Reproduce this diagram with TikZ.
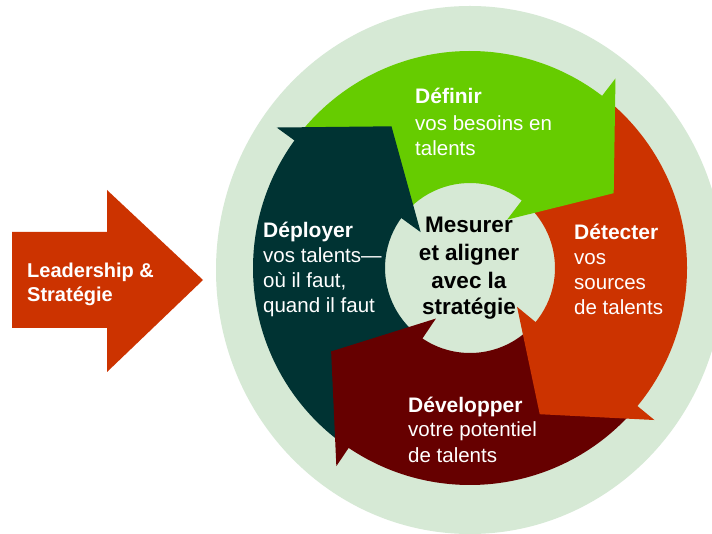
\documentclass[tikz,border=0pt]{standalone}
\usepackage{fontspec}
\setmainfont{Liberation Sans}
\definecolor{bgl}{RGB}{214,233,213}
\definecolor{grn}{RGB}{102,204,0}
\definecolor{org}{RGB}{204,51,0}
\definecolor{drd}{RGB}{102,0,0}
\definecolor{tea}{RGB}{0,51,51}
\tikzset{
  lbl/.style={anchor=base west, inner sep=0pt, text=white, font=\fontsize{20.5}{25}\selectfont},
  lblb/.style={anchor=base west, inner sep=0pt, text=white, font=\bfseries\fontsize{21}{25}\selectfont},
  ctr/.style={anchor=base, inner sep=0pt, text=black, font=\bfseries\fontsize{22.5}{27}\selectfont},
}
\begin{document}
\begin{tikzpicture}[x=1pt,y=1pt]
\useasboundingbox (0,0) rectangle (712,533);
\fill[white] (0,0) rectangle (712,533);
% background disc
\fill[bgl] (470,263) ellipse[x radius=254pt, y radius=264pt];
% left arrow
\fill[org] (12,205) -- (107,205) -- (107,161) -- (203,253) -- (107,343) -- (107,301) -- (12,301) -- cycle;
\node[lblb, font=\bfseries\fontsize{20}{24}\selectfont] (lead1) at (27,255) {Leadership \&};
\node[lblb, font=\bfseries\fontsize{20}{24}\selectfont] (lead2) at (27,231) {Stratégie};
% ring arrows: bodies first (each tucked under its own head and the previous head), then heads
\begin{scope}[shift={(470,265)}]
  \foreach \c/\h/\t in {grn/52.5/144, org/-39.5/52.5, drd/-124/-39.5, tea/144/236}{
    \pgfmathsetmacro{\hs}{\h-1.5}
    \pgfmathsetmacro{\ts}{\t-2.5}
    \fill[\c] (\hs:85pt) -- (\hs:217pt) arc[start angle=\hs, end angle=\ts, radius=217pt]
      -- (\ts:85pt) arc[start angle=\ts, end angle=\hs, radius=85pt] -- cycle;
  }
  \foreach \c/\h in {grn/52.5, org/-39.5, drd/-124, tea/144}{
    \fill[\c] (\h:61pt) -- (\h:239pt) -- ({\h-25}:162pt) -- cycle;
  }
\end{scope}
% labels
\node[lblb] (def1) at (415,429) {Définir};
\node[lbl]  (def2) at (415,402) {vos besoins en};
\node[lbl]  (def3) at (415,377) {talents};
\node[lblb] (det1) at (574,293) {Détecter};
\node[lbl]  (det2) at (574,268) {vos};
\node[lbl]  (det3) at (574,243) {sources};
\node[lbl]  (det4) at (574,218) {de talents};
\node[lblb] (dep1) at (263,295) {Déployer};
\node[lbl]  (dep2) at (263,270) {vos talents—};
\node[lbl]  (dep3) at (263,245) {où il faut,};
\node[lbl]  (dep4) at (263,220) {quand il faut};
\node[lblb] (dev1) at (408,121) {Développer};
\node[lbl]  (dev2) at (408,96) {votre potentiel};
\node[lbl]  (dev3) at (408,71) {de talents};
\node[ctr] (c1) at (469,300) {Mesurer};
\node[ctr] (c2) at (469,272) {et aligner};
\node[ctr] (c3) at (469,244) {avec la};
\node[ctr] (c4) at (469,218) {stratégie};
\end{tikzpicture}
\end{document}
